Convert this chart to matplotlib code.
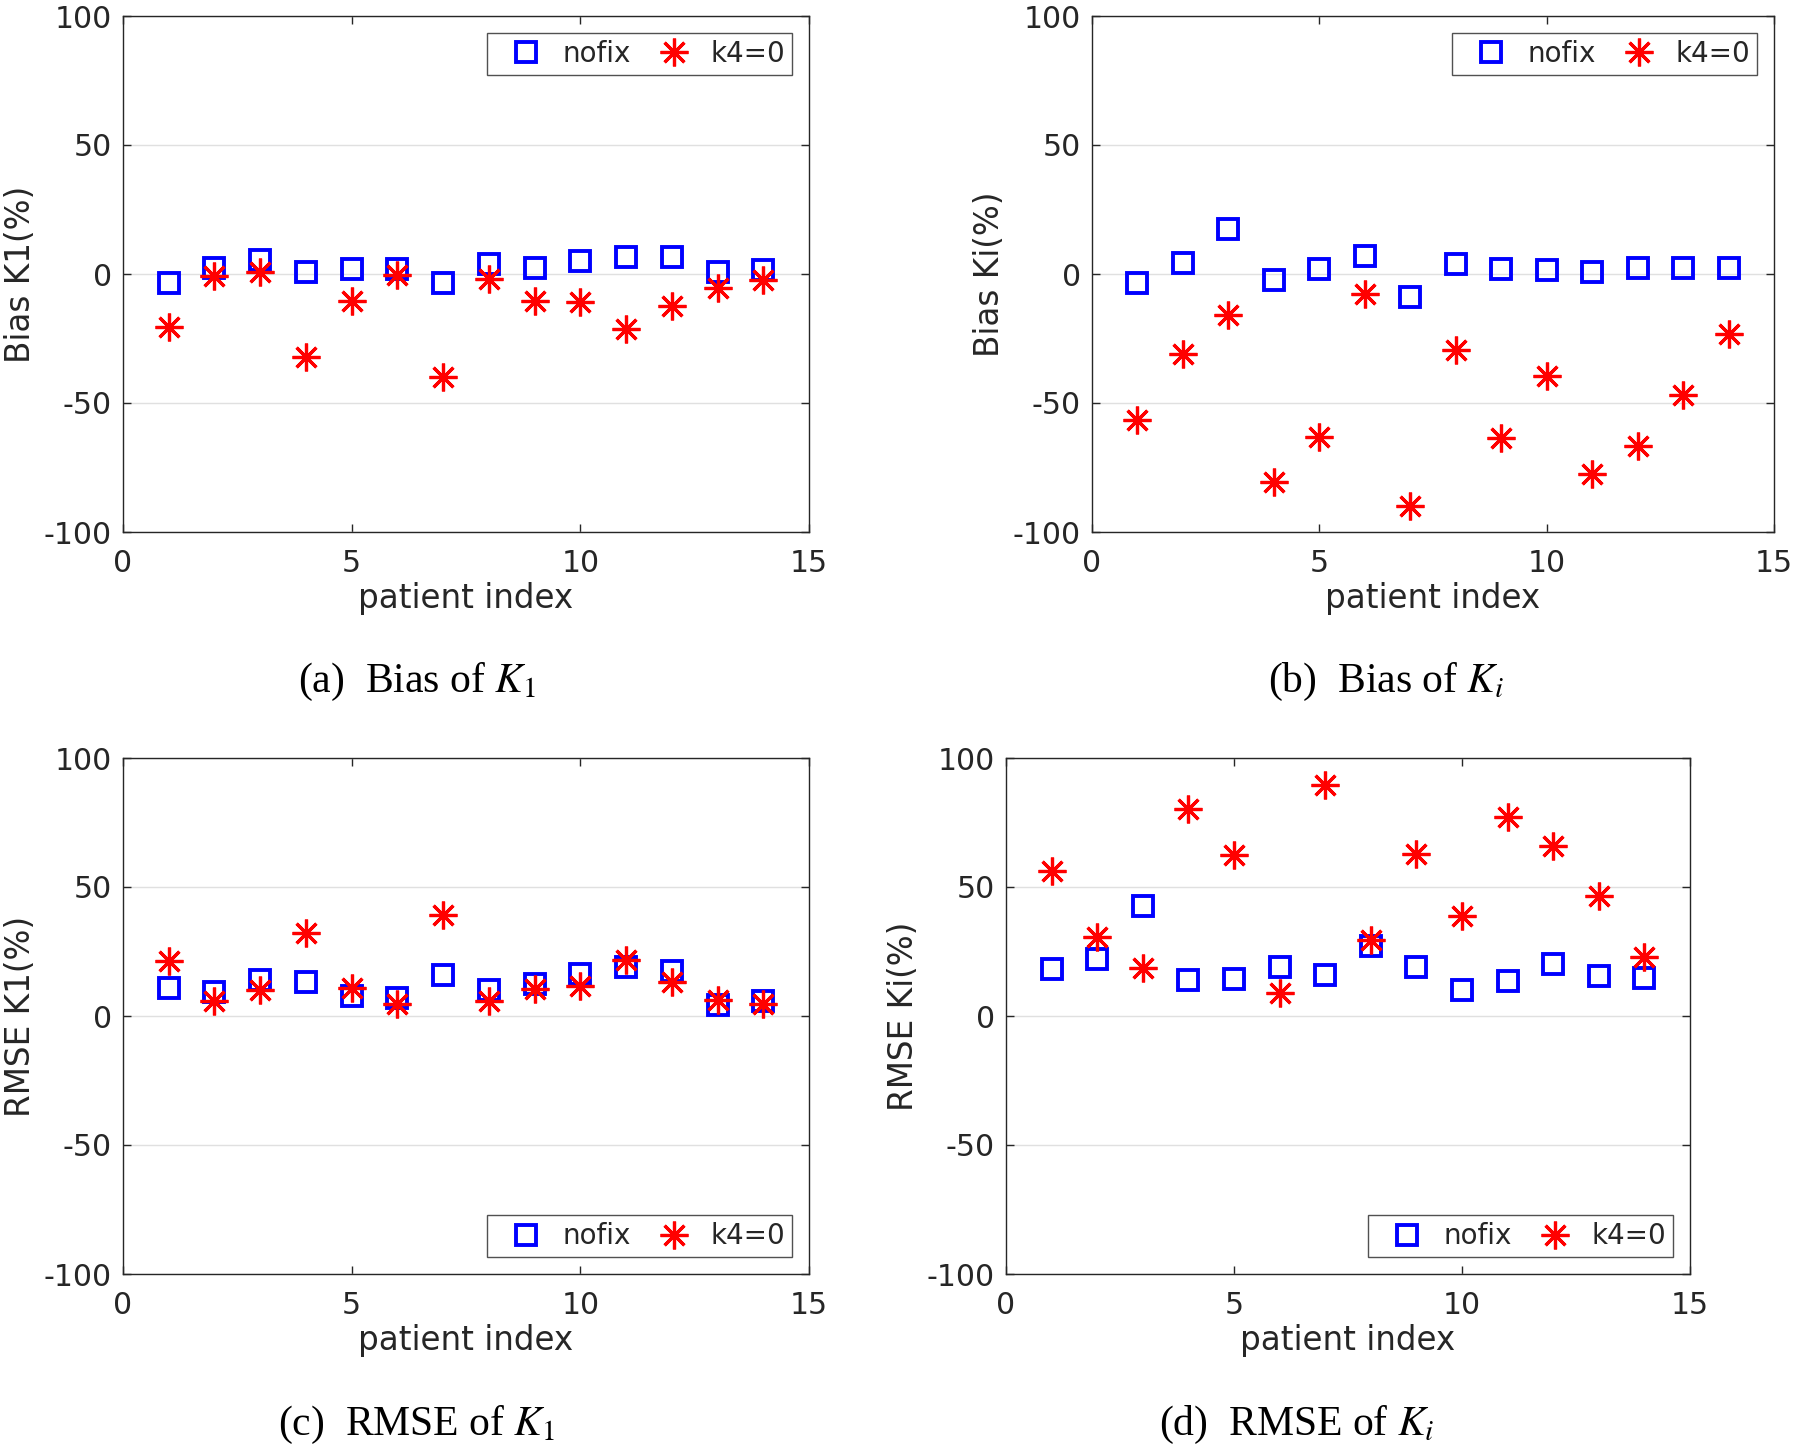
import numpy as np
import matplotlib
matplotlib.use("Agg")
import matplotlib.pyplot as plt

plt.rcParams['font.family'] = ['DejaVu Sans']
plt.rcParams['mathtext.fontset'] = 'stix'
plt.rcParams['axes.unicode_minus'] = False

patients = list(range(1, 15))

bias_k1_nofix = [-3.5, 2.4, 5.6, 0.9, 2.1, 2.1, -3.5, 3.7, 2.4, 5.0, 6.6, 6.6, 0.9, 1.6]
bias_k1_k40 = [-20.4, -0.9, 0.9, -32.2, -10.5, -0.2, -39.9, -2.1, -10.5, -11.0, -21.3, -12.5, -5.6, -2.4]

bias_ki_nofix = [-3.6, 4.3, 17.4, -2.3, 2.1, 6.9, -8.9, 4.0, 1.9, 1.4, 0.9, 2.3, 2.3, 2.3]
bias_ki_k40 = [-56.6, -30.9, -15.8, -80.7, -63.0, -7.8, -89.9, -29.5, -63.5, -39.6, -77.4, -66.5, -47.0, -23.1]

rmse_k1_nofix = [10.9, 9.3, 14.1, 13.2, 7.7, 7.1, 15.9, 10.2, 12.3, 16.3, 18.8, 17.5, 4.3, 5.7]
rmse_k1_k40 = [21.4, 5.9, 10.2, 32.0, 10.7, 4.6, 39.3, 5.9, 10.4, 11.6, 21.6, 13.0, 6.1, 4.8]

rmse_ki_nofix = [18.2, 22.1, 42.5, 13.8, 14.5, 19.1, 15.7, 27.3, 18.9, 10.0, 13.4, 20.2, 15.4, 14.8]
rmse_ki_k40 = [56.1, 30.7, 18.6, 80.2, 62.5, 9.1, 89.5, 29.5, 62.7, 38.8, 77.0, 65.7, 46.4, 23.0]

series_labels = ['nofix', 'k4=0']
xticks = [0, 5, 10, 15]
yticks = [-100, -50, 0, 50, 100]

W, H = 1800, 1450
fig = plt.figure(figsize=(W / 100, H / 100), dpi=100)

def rect(l, r, t, b):
    return [l / W, 1 - b / H, (r - l) / W, (b - t) / H]

panels = [
    dict(rect=rect(123, 809, 16, 532), nofix=bias_k1_nofix, k40=bias_k1_k40,
         ylabel='Bias K1(%)', loc='upper right', cap='(a)  Bias of $K_1$', cx=417, cy=682),
    dict(rect=rect(1092, 1774, 16, 532), nofix=bias_ki_nofix, k40=bias_ki_k40,
         ylabel='Bias Ki(%)', loc='upper right', cap='(b)  Bias of $K_i$', cx=1386, cy=682),
    dict(rect=rect(123, 809, 758, 1274), nofix=rmse_k1_nofix, k40=rmse_k1_k40,
         ylabel='RMSE K1(%)', loc='lower right', cap='(c)  RMSE of $K_1$', cx=417, cy=1425),
    dict(rect=rect(1006, 1690, 758, 1274), nofix=rmse_ki_nofix, k40=rmse_ki_k40,
         ylabel='RMSE Ki(%)', loc='lower right', cap='(d)  RMSE of $K_i$', cx=1297, cy=1425),
]

txt_color = '#262626'
for p in panels:
    ax = fig.add_axes(p['rect'])
    ax.plot(patients, p['nofix'], linestyle='none', marker='s', markersize=15,
            markerfacecolor='none', markeredgecolor='#0000ff', markeredgewidth=2.8,
            label=series_labels[0])
    ax.plot(patients, p['k40'], linestyle='none', marker=(8, 2, 0), markersize=20,
            markeredgecolor='#ff0000', color='#ff0000', markeredgewidth=2.3,
            label=series_labels[1])
    ax.set_xlim(0, 15)
    ax.set_ylim(-100, 100)
    ax.set_xticks(xticks)
    ax.set_yticks(yticks)
    ax.yaxis.grid(True, color='#e0e0e0', linewidth=1.0)
    ax.set_axisbelow(True)
    ax.tick_params(direction='in', top=True, right=True, length=6, width=1,
                   labelsize=21.5, colors=txt_color)
    ax.tick_params(axis='x', pad=12)
    ax.tick_params(axis='y', pad=8)
    for s in ax.spines.values():
        s.set_color(txt_color)
        s.set_linewidth(1.0)
    ax.set_xlabel('patient index', fontsize=23.5, color=txt_color, labelpad=3)
    ax.set_ylabel(p['ylabel'], fontsize=23.5, color=txt_color, labelpad=5)
    leg = ax.legend(loc=p['loc'], ncol=2, fontsize=20, frameon=True, fancybox=False,
                    edgecolor=txt_color, borderaxespad=0.6, handlelength=2.3,
                    columnspacing=0.38, handletextpad=0.18, borderpad=0.25)
    leg.get_frame().set_linewidth(1.0)
    for t in leg.get_texts():
        t.set_color(txt_color)
    fig.text(p['cx'] / W, 1 - p['cy'] / H, p['cap'], ha='center', va='center',
             fontsize=30, family='Liberation Serif', color='black')

fig.savefig('out.png', dpi=100)
